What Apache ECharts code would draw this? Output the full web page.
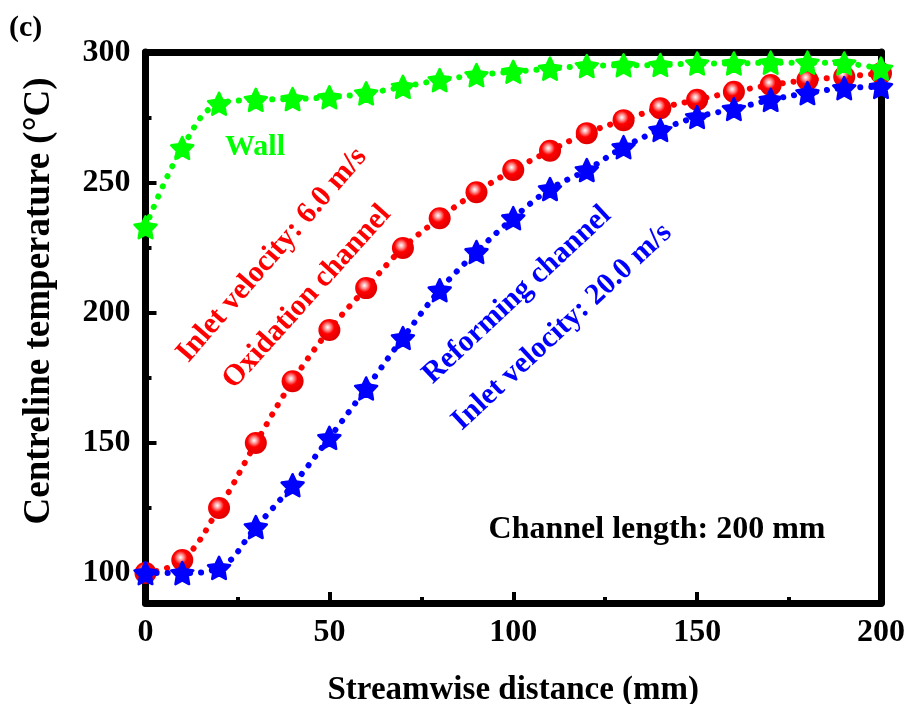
<!DOCTYPE html>
<html>
<head>
<meta charset="utf-8">
<script src="https://cdn.jsdelivr.net/npm/echarts@6/dist/echarts.min.js"></script>
<style>
html,body{margin:0;padding:0;background:#fff;}
#chart{width:909px;height:704px;}
</style>
</head>
<body>
<div id="chart"></div>
<script>
// ---- data ----
var distance = [0,10,20,30,40,50,60,70,80,90,100,110,120,130,140,150,160,170,180,190,200];
var wallTemp = [233,263.5,280.5,282,282.3,283,284.5,287,289.6,291.5,292.8,294,295,295.3,295.4,296,296,296.3,296.3,296,294];
var oxidationTemp = [100,105,125,150,173.8,193.5,209.6,225,236.5,246.5,255,262.4,269.2,274.2,278.8,282,285.1,287.7,289.6,290.9,292.2];
var reformingTemp = [100,100,102,117.7,133.8,152,171,190.4,208.8,223.5,236.5,247.7,255,263.8,270.4,275.4,278.5,282,284.6,286.5,287];
var yMajorTicks = [100,150,200,250,300];
var yMinorTicks = [125,175,225,275];

function pairs(xs, ys){ return xs.map(function(x,i){ return [x, ys[i]]; }); }

var FONT = 'Liberation Serif, Times New Roman, serif';
var STAR = 'path://M50,2 L64.7,31.8 L97.6,36.5 L73.8,59.7 L79.4,92.5 L50,77 L20.6,92.5 L26.2,59.7 L2.4,36.5 L35.3,31.8 Z';

var chart = echarts.init(document.getElementById('chart'), null, {renderer:'canvas'});
var frameW = 7;
var dotLine = function(color){ return {color: color, width: 6, type: [0.1, 11], cap: 'round'}; };

var option = {
  backgroundColor: '#fff',
  animation: false,
  grid: {left: 145.5, right: 28, top: 52, bottom: 101, containLabel: false, outerBoundsMode: 'none'},
  xAxis: [{
    type: 'value', min: 0, max: 200, interval: 50, position: 'bottom',
    axisLine: {show: true, onZero: false, lineStyle: {color: '#000', width: frameW}},
    axisTick: {show: true, inside: true, length: 11, lineStyle: {color: '#000', width: 4}},
    minorTick: {show: true, splitNumber: 2, length: 6, lineStyle: {color: '#000', width: 4}},
    axisLabel: {show: true, margin: 14, color: '#000', fontFamily: FONT, fontWeight: 'bold', fontSize: 32},
    splitLine: {show: false},
    name: 'Streamwise distance (mm)', nameLocation: 'middle', nameGap: 71,
    nameTextStyle: {color: '#000', fontFamily: FONT, fontWeight: 'bold', fontSize: 33}
  },{
    type: 'value', min: 0, max: 200, position: 'top',
    axisLine: {show: true, onZero: false, lineStyle: {color: '#000', width: frameW}},
    axisTick: {show: false}, axisLabel: {show: false}, splitLine: {show: false}
  }],
  yAxis: [{
    type: 'value', min: 88.5, max: 300.4, position: 'left',
    axisLine: {show: true, onZero: false, lineStyle: {color: '#000', width: frameW}},
    axisTick: {show: true, inside: true, length: 11, customValues: yMajorTicks, lineStyle: {color: '#000', width: 4}},
    axisLabel: {show: true, margin: 15, customValues: yMajorTicks, color: '#000', fontFamily: FONT, fontWeight: 'bold', fontSize: 32},
    splitLine: {show: false}
  },{
    type: 'value', min: 88.5, max: 300.4, position: 'left',
    axisLine: {show: false},
    axisTick: {show: true, inside: true, length: 6, customValues: yMinorTicks, lineStyle: {color: '#000', width: 4}},
    axisLabel: {show: false}, splitLine: {show: false}
  },{
    type: 'value', min: 88.5, max: 300.4, position: 'right',
    axisLine: {show: true, onZero: false, lineStyle: {color: '#000', width: frameW}},
    axisTick: {show: false}, axisLabel: {show: false}, splitLine: {show: false}
  }],
  series: [{
    name: 'Oxidation channel', type: 'line', smooth: 0.4,
    data: pairs(distance, oxidationTemp),
    symbol: 'circle', symbolSize: 22,
    lineStyle: dotLine('#ff0000'),
    itemStyle: {
      color: {type: 'radial', x: 0.42, y: 0.38, r: 0.6,
        colorStops: [{offset: 0, color: '#ffffff'}, {offset: 0.22, color: '#ff9a9a'}, {offset: 0.5, color: '#ff0000'}, {offset: 1, color: '#e00000'}]}
    },
    z: 2
  },{
    name: 'Reforming channel', type: 'line', smooth: 0.4,
    data: pairs(distance, reformingTemp),
    symbol: STAR, symbolSize: 22,
    lineStyle: dotLine('#0000ff'),
    itemStyle: {color: '#0000ff', borderColor: '#0000ff', borderWidth: 2.5, borderJoin: 'round'},
    z: 3
  },{
    name: 'Wall', type: 'line', smooth: 0.4,
    data: pairs(distance, wallTemp),
    symbol: STAR, symbolSize: 22,
    lineStyle: dotLine('#00ff00'),
    itemStyle: {color: '#00ff00', borderColor: '#00ff00', borderWidth: 2.5, borderJoin: 'round'},
    z: 4
  }],
  graphic: [
    {type: 'text', x: 9, y: 13, style: {text: '(c)', font: 'bold 30px ' + FONT, fill: '#000'}},
    {type: 'text', x: 39, y: 301, rotation: Math.PI / 2, style: {text: 'Centreline temperature (°C)', font: 'bold 37px ' + FONT, fill: '#000', align: 'center', verticalAlign: 'middle'}},
    {type: 'text', x: 255, y: 147, style: {text: 'Wall', font: 'bold 30px ' + FONT, fill: '#00ff00', align: 'center', verticalAlign: 'middle'}},
    {type: 'text', x: 272, y: 255, rotation: 49 * Math.PI / 180, style: {text: 'Inlet velocity: 6.0 m/s', font: 'bold 30px ' + FONT, fill: '#ff0000', align: 'center', verticalAlign: 'middle'}},
    {type: 'text', x: 307, y: 297, rotation: 48 * Math.PI / 180, style: {text: 'Oxidation channel', font: 'bold 30px ' + FONT, fill: '#ff0000', align: 'center', verticalAlign: 'middle'}},
    {type: 'text', x: 517, y: 295, rotation: 43 * Math.PI / 180, style: {text: 'Reforming channel', font: 'bold 30px ' + FONT, fill: '#0000ff', align: 'center', verticalAlign: 'middle'}},
    {type: 'text', x: 562, y: 327, rotation: 43 * Math.PI / 180, style: {text: 'Inlet velocity: 20.0 m/s', font: 'bold 30px ' + FONT, fill: '#0000ff', align: 'center', verticalAlign: 'middle'}},
    {type: 'text', x: 657, y: 530, style: {text: 'Channel length: 200 mm', font: 'bold 32px ' + FONT, fill: '#000', align: 'center', verticalAlign: 'middle'}}
  ]
};
chart.setOption(option);
</script>
</body>
</html>
